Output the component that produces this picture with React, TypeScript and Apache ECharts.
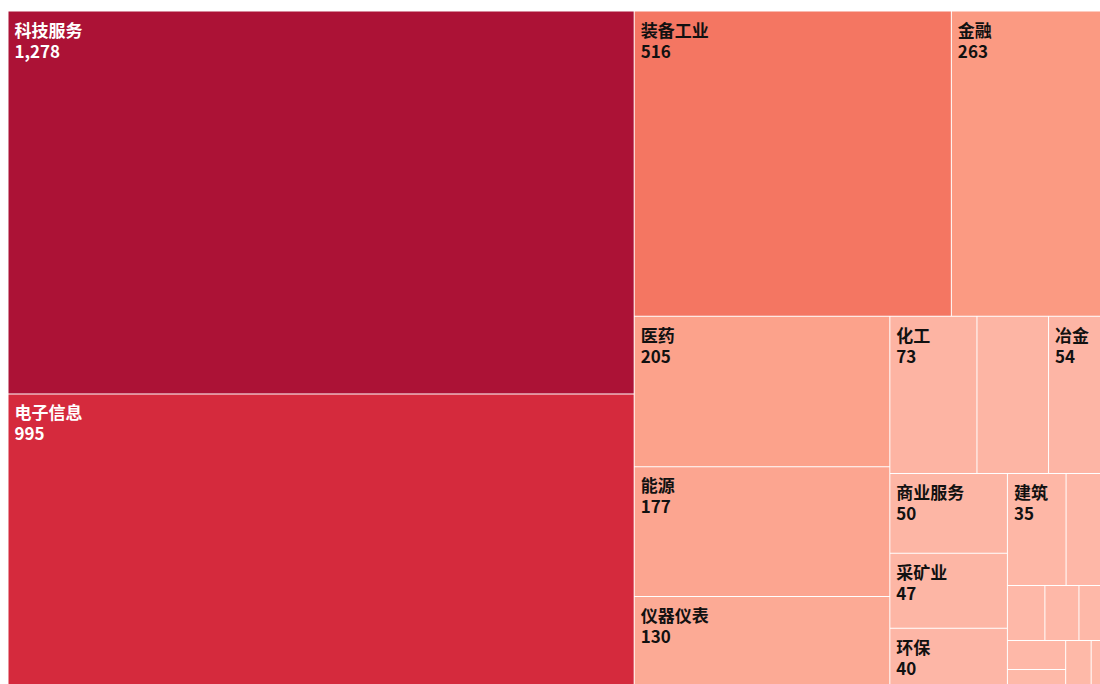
import React, { useEffect, useRef } from "react";
import * as echarts from "echarts";

// Labelled industries and their values
const categories = [
  "科技服务",
  "电子信息",
  "装备工业",
  "金融",
  "医药",
  "能源",
  "仪器仪表",
  "化工",
  "冶金",
  "商业服务",
  "采矿业",
  "环保",
  "建筑",
];
const values = [1278, 995, 516, 263, 205, 177, 130, 73, 54, 50, 47, 40, 35];

// Small tiles drawn without a label in the reference (values estimated from area)
const unlabeledNames = ["u1", "u2", "u3", "u4", "u5", "u6", "u7", "u8", "u9"];
const unlabeledValues = [60, 28, 11, 10, 10, 9, 7, 7, 6];

// Sequential colour scale (value -> colour)
const colorStops: [number, string][] = [
  [0, "#FEB9A9"],
  [73, "#FDB4A3"],
  [130, "#FCAA95"],
  [177, "#FCA590"],
  [205, "#FCA28B"],
  [263, "#FB9A82"],
  [516, "#F47662"],
  [995, "#D52A3D"],
  [1278, "#AC1236"],
];

function hexToRgb(h: string): number[] {
  const n = parseInt(h.slice(1), 16);
  return [(n >> 16) & 255, (n >> 8) & 255, n & 255];
}

function colorFor(v: number): string {
  for (let i = 1; i < colorStops.length; i++) {
    const [v1, c1] = colorStops[i];
    const [v0, c0] = colorStops[i - 1];
    if (v <= v1) {
      const t = (v - v0) / (v1 - v0);
      const a = hexToRgb(c0);
      const b = hexToRgb(c1);
      const r = a.map((x, k) => Math.round(x + (b[k] - x) * t));
      return `rgb(${r[0]},${r[1]},${r[2]})`;
    }
  }
  return colorStops[colorStops.length - 1][1];
}

export default function App() {
  const ref = useRef<HTMLDivElement>(null);

  useEffect(() => {
    if (!ref.current) return;
    // the chart fills the whole window, with no page margin and no scrollbars
    document.documentElement.style.overflow = "hidden";
    document.body.style.margin = "0";

    const chart = echarts.init(ref.current, undefined, {
      renderer: "svg",
      width: 1100,
      height: 684,
    });

    const labelled = categories.map((name, i) => ({
      name,
      value: values[i],
      itemStyle: { color: colorFor(values[i]) },
      label: { color: values[i] >= 900 ? "#ffffff" : "#111111" },
    }));
    const hidden = unlabeledNames.map((name, i) => ({
      name,
      value: unlabeledValues[i],
      itemStyle: { color: colorFor(unlabeledValues[i]) },
      label: { show: false },
    }));

    chart.setOption({
      animation: false,
      tooltip: { show: false },
      series: [
        {
          type: "treemap",
          left: 8,
          top: 11,
          width: 1105,
          height: 681,
          roam: false,
          nodeClick: false,
          breadcrumb: { show: false },
          sort: "desc",
          levels: [
            { itemStyle: { borderWidth: 0, gapWidth: 0 } },
            { itemStyle: { borderWidth: 0.5, borderColor: "#ffffff", gapWidth: 0 } },
          ],
          label: {
            show: true,
            position: "insideTopLeft",
            distance: 0,
            padding: [7, 6, 0, 6],
            fontSize: 17,
            fontWeight: "bold",
            lineHeight: 21,
            fontFamily: "'Noto Sans CJK SC', 'Noto Sans', sans-serif",
            formatter: (p: any) =>
              `${p.name}\n${Number(p.value).toLocaleString("en-US")}`,
          },
          data: [...labelled, ...hidden],
        },
      ],
    });

    return () => chart.dispose();
  }, []);

  return <div ref={ref} style={{ width: "1100px", height: "684px" }} />;
}
